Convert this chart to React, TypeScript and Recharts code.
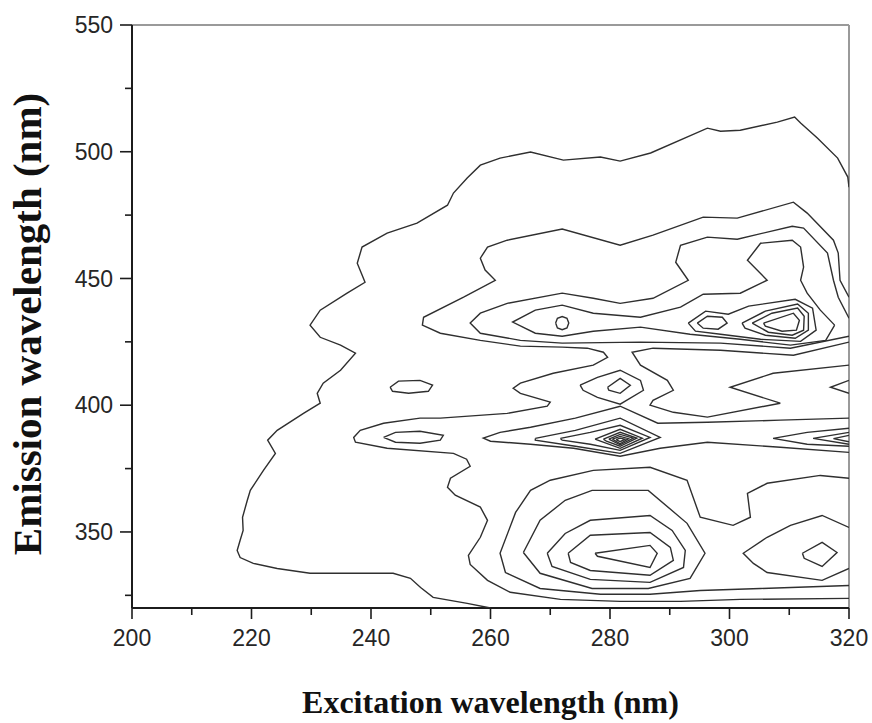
import React from "react";
import { ScatterChart, Scatter, XAxis, YAxis, ReferenceLine } from "recharts";

type Pt = [number, number];

const X_TICKS = [200, 210, 220, 230, 240, 250, 260, 270, 280, 290, 300, 310, 320];
const Y_TICKS = [325, 350, 375, 400, 425, 450, 475, 500, 525, 550];
const X_TITLE = "Excitation wavelength (nm)";
const Y_TITLE = "Emission wavelength (nm)";

// contour lines, [excitation nm, emission nm]
const outerContour: Pt[] = [
  [260.0, 320.0], [256.1, 321.8], [250.4, 324.2], [248.3, 328.1], [246.6, 331.7], [243.7, 333.7],
  [238.2, 333.7], [229.8, 333.7], [224.3, 335.6], [220.3, 337.6], [218.1, 339.9], [217.6, 342.7],
  [218.1, 346.7], [218.6, 350.6], [218.5, 355.8], [219.3, 362.5], [219.8, 366.4], [222.0, 374.3],
  [224.0, 381.0], [222.7, 386.2], [224.3, 390.1], [228.7, 396.8], [231.5, 400.8], [231.0, 404.7],
  [232.0, 408.7], [234.9, 413.8], [237.4, 420.5], [234.9, 423.7], [231.5, 426.8], [229.8, 431.6],
  [231.5, 437.5], [236.0, 444.2], [239.0, 448.5], [237.7, 456.0], [238.5, 462.4], [242.7, 467.9],
  [247.7, 471.8], [252.8, 478.9], [253.8, 483.7], [256.1, 489.6], [258.3, 494.7], [261.6, 497.5],
  [266.7, 499.9], [272.2, 496.7], [278.4, 497.9], [281.7, 496.3], [286.8, 499.5], [296.3, 509.3],
  [298.5, 508.1], [301.8, 508.5], [308.0, 511.7], [310.9, 513.7], [311.9, 511.3], [314.7, 505.4],
  [318.1, 497.5], [319.8, 490.0], [320.0, 486.0],
];

const level2Main: Pt[] = [
  [320.0, 442.6], [318.5, 449.3], [318.2, 460.0], [317.4, 465.1], [313.0, 475.8], [310.7, 480.1],
  [301.3, 473.8], [295.6, 474.2], [287.2, 467.1], [281.7, 463.1], [272.0, 469.5], [262.8, 465.1],
  [259.5, 462.4], [258.3, 458.0], [259.1, 453.3], [260.8, 449.3], [255.5, 442.6], [248.8, 434.7],
  [248.6, 431.6], [251.6, 428.4], [258.3, 425.6], [265.0, 423.3], [272.0, 422.9], [276.2, 422.5],
  [278.9, 420.9], [279.6, 418.9], [277.2, 415.8], [270.5, 412.6], [265.0, 408.7], [263.8, 406.7],
  [265.0, 404.7], [270.0, 401.2], [269.5, 399.6], [262.8, 396.8], [251.6, 394.9], [248.2, 394.9],
  [242.1, 392.9], [238.2, 390.1], [237.1, 387.3], [237.4, 385.4], [242.7, 383.0], [253.8, 381.0],
  [256.0, 378.7], [256.6, 375.9], [253.3, 371.2], [252.8, 367.6], [254.1, 364.5], [258.3, 359.8],
  [259.5, 354.6], [258.3, 347.9], [256.3, 340.8], [256.6, 337.2], [259.5, 330.9], [263.3, 326.2],
  [271.7, 323.4], [281.7, 322.6], [291.8, 322.6], [301.8, 323.4], [320.0, 323.8],
];

const level2Valley: Pt[] = [
  [320.0, 424.9], [310.7, 419.7], [298.5, 421.7], [287.2, 422.5], [283.7, 420.9], [285.1, 415.8],
  [289.6, 409.8], [290.6, 405.9], [287.2, 401.9], [286.7, 400.0], [290.6, 397.2], [296.3, 395.3],
  [308.5, 400.8], [300.1, 407.1], [307.3, 412.6], [320.0, 415.8],
];

const islet407: Pt[] = [
  [243.2, 407.1], [244.6, 409.5], [248.2, 409.8], [250.3, 407.9], [249.6, 405.5], [246.3, 404.7],
  [243.6, 405.5], [243.2, 407.1],
];

const islet387: Pt[] = [
  [242.1, 387.3], [244.1, 389.3], [248.2, 389.7], [252.1, 388.1], [251.6, 386.2], [248.2, 385.0],
  [244.1, 385.4], [242.1, 387.3],
];

const upperL3: Pt[] = [
  [320.0, 434.3], [318.2, 442.6], [317.4, 449.3], [316.4, 460.0], [312.4, 469.9], [310.5, 470.6],
  [301.3, 465.5], [296.3, 466.3], [291.8, 463.1], [291.0, 456.4], [293.1, 449.3], [287.2, 442.2],
  [281.7, 440.2], [277.2, 442.2], [272.0, 444.2], [262.8, 440.2], [258.3, 436.3], [256.6, 432.4],
  [258.3, 428.4], [265.0, 425.6], [272.0, 424.5], [285.1, 424.9], [298.5, 424.5], [310.2, 422.5],
  [320.0, 427.2],
];

const upperL4: Pt[] = [
  [317.6, 431.6], [315.2, 437.5], [313.0, 444.2], [311.9, 449.3], [312.4, 454.5], [311.9, 462.4],
  [310.5, 465.1], [305.2, 463.9], [303.0, 457.2], [306.3, 449.3], [301.8, 444.2], [295.6, 443.8],
  [291.8, 438.7], [285.1, 434.7], [277.2, 436.3], [272.0, 439.5], [267.5, 437.5], [263.7, 432.8],
  [267.5, 428.4], [272.0, 427.2], [277.2, 429.2], [285.1, 430.8], [293.4, 428.0], [301.8, 426.0],
  [310.2, 423.7], [316.1, 425.6], [317.6, 431.6],
];

const upperDot272: Pt[] = [
  [270.9, 432.4], [271.2, 434.3], [272.0, 435.0], [272.8, 434.3], [273.1, 432.4], [272.8, 430.5],
  [272.0, 429.8], [271.2, 430.5], [270.9, 432.4],
];

const upperL5: Pt[] = [
  [293.1, 432.4], [296.0, 437.1], [299.8, 435.9], [303.2, 439.1], [311.0, 441.8], [313.9, 438.3],
  [314.5, 429.6], [311.9, 425.2], [305.2, 426.0], [298.5, 428.0], [294.3, 429.2], [293.1, 432.4],
];

const upperL6a: Pt[] = [
  [294.6, 432.4], [296.3, 435.1], [298.8, 434.7], [299.6, 432.4], [298.1, 430.0], [295.6, 430.4],
  [294.6, 432.4],
];

const upperL6b: Pt[] = [
  [302.1, 432.4], [306.0, 437.1], [311.4, 439.9], [313.2, 436.3], [313.2, 429.6], [311.0, 426.4],
  [306.0, 427.6], [302.6, 430.4], [302.1, 432.4],
];

const upperL7: Pt[] = [
  [303.8, 432.4], [307.1, 436.3], [311.4, 438.3], [312.5, 435.1], [312.4, 429.6], [310.5, 427.6],
  [306.5, 428.8], [303.8, 432.4],
];

const upperL8: Pt[] = [
  [305.7, 432.4], [310.7, 436.3], [311.7, 433.5], [311.2, 429.6], [308.8, 429.2], [306.0, 431.2],
  [305.7, 432.4],
];

const peak410L3: Pt[] = [
  [275.0, 407.9], [277.9, 411.0], [281.7, 413.8], [285.1, 409.8], [285.6, 405.9], [281.7, 400.4],
  [277.9, 403.1], [275.5, 405.9], [275.0, 407.9],
];

const peak410L4: Pt[] = [
  [279.6, 407.1], [281.7, 410.6], [283.4, 407.9], [281.7, 404.7], [279.8, 405.9], [279.6, 407.1],
];

const edge410: Pt[] = [[320.0, 409.8], [316.9, 407.1], [320.0, 404.7]];

const band385L3: Pt[] = [
  [320.0, 394.9], [308.5, 394.1], [296.3, 393.3], [288.0, 392.9], [281.7, 399.6], [274.2, 394.9],
  [266.7, 391.3], [261.6, 389.3], [258.8, 387.0], [260.0, 385.8], [266.7, 384.6], [273.9, 383.0],
  [281.7, 379.9], [288.4, 383.0], [296.3, 385.4], [308.5, 383.4], [320.0, 381.4],
];

const band385L4: Pt[] = [
  [267.5, 386.9], [274.2, 390.1], [281.7, 394.9], [288.4, 387.3], [281.7, 381.0], [274.2, 383.8],
  [267.5, 386.2], [267.5, 386.9],
];

const band385L5: Pt[] = [
  [271.7, 386.9], [276.7, 389.3], [281.7, 392.1], [286.7, 387.3], [281.7, 382.2], [276.7, 384.6],
  [272.0, 386.2], [271.7, 386.9],
];

const band385L6: Pt[] = [
  [277.5, 386.6], [281.7, 390.5], [285.4, 387.0], [281.7, 383.0], [278.4, 385.8], [277.5, 386.6],
];

const band385L7: Pt[] = [
  [278.9, 386.6], [281.7, 389.3], [284.5, 387.0], [281.7, 383.8], [279.4, 385.8], [278.9, 386.6],
];

const band385L8: Pt[] = [[279.8, 386.6], [281.7, 388.5], [283.9, 387.0], [281.7, 384.4], [279.8, 386.6]];
const band385L9: Pt[] = [[280.4, 386.6], [281.7, 387.7], [283.1, 386.8], [281.7, 384.8], [280.4, 386.6]];
const band385L10: Pt[] = [[281.0, 386.4], [281.7, 387.0], [282.5, 386.6], [281.7, 385.6], [281.0, 386.4]];

const edge385L4: Pt[] = [[320.0, 390.9], [313.0, 389.3], [307.3, 386.9], [313.0, 384.6], [320.0, 383.8]];
const edge385L5: Pt[] = [[320.0, 389.3], [314.0, 386.9], [320.0, 384.6]];
const edge385L6: Pt[] = [[320.0, 388.1], [317.4, 386.8], [320.0, 385.6]];

const lowerL3: Pt[] = [
  [320.0, 371.2], [315.2, 372.3], [306.3, 369.2], [303.0, 365.2], [303.5, 355.8], [300.6, 352.6],
  [295.1, 355.8], [292.9, 370.4], [286.7, 375.5], [277.2, 374.3], [270.0, 370.4], [266.7, 366.4],
  [264.2, 357.7], [261.6, 341.6], [262.5, 334.0], [268.3, 327.7], [278.4, 325.4], [286.7, 325.4],
  [295.1, 326.9], [305.2, 327.7], [320.0, 328.9],
];

const lowerL4: Pt[] = [
  [265.5, 341.9], [268.3, 354.6], [272.5, 362.5], [277.0, 366.4], [286.4, 366.4], [292.9, 353.4],
  [295.9, 341.6], [293.4, 331.7], [286.4, 327.7], [277.0, 327.7], [268.3, 333.7], [265.5, 341.9],
];

const lowerL5: Pt[] = [
  [269.5, 341.6], [272.5, 349.4], [276.7, 354.6], [286.7, 356.5], [290.4, 350.6], [292.6, 342.7],
  [292.3, 336.0], [286.7, 330.1], [276.7, 331.3], [270.3, 336.4], [269.5, 341.6],
];

const lowerL6: Pt[] = [
  [273.0, 341.6], [276.7, 348.7], [286.7, 349.8], [290.1, 343.9], [290.6, 338.8], [286.7, 332.9],
  [276.7, 334.8], [273.4, 338.0], [273.0, 341.6],
];

const lowerL7: Pt[] = [[277.5, 341.6], [286.7, 344.7], [287.9, 341.6], [286.7, 336.0], [277.9, 340.4], [277.5, 341.6]];

const rightL4: Pt[] = [
  [320.0, 351.8], [315.5, 356.5], [310.2, 352.6], [306.3, 347.9], [302.3, 341.6], [304.0, 337.6],
  [306.3, 334.0], [315.5, 330.9], [320.0, 335.6],
];

const rightL5: Pt[] = [[312.2, 341.6], [315.5, 345.9], [318.0, 341.9], [315.5, 336.4], [312.5, 339.6], [312.2, 341.6]];

const CONTOURS: Pt[][] = [
  outerContour, level2Main, level2Valley, islet407, islet387,
  upperL3, upperL4, upperDot272, upperL5, upperL6a, upperL6b, upperL7, upperL8,
  peak410L3, peak410L4, edge410,
  band385L3, band385L4, band385L5, band385L6, band385L7, band385L8, band385L9, band385L10,
  edge385L4, edge385L5, edge385L6,
  lowerL3, lowerL4, lowerL5, lowerL6, lowerL7, rightL4, rightL5,
];

const LINE = "#2f2f2f";
const AXIS = "#1c1c1c";
const SANS = "'Liberation Sans', Arial, sans-serif";
const SERIF = "'Liberation Serif', 'Times New Roman', serif";

const noDot = () => <g />;

function XTick({ x, y, payload }: any) {
  const major = payload.value % 20 === 0;
  const len = major ? 11 : 7;
  return (
    <g>
      <line x1={x} y1={y} x2={x} y2={y + len} stroke={AXIS} strokeWidth={1.6} />
      {major && (
        <text x={x} y={y + 38} textAnchor="middle" fontSize={23} fill="#262626" fontFamily={SANS}>
          {payload.value}
        </text>
      )}
    </g>
  );
}

function YTick({ x, y, payload }: any) {
  const major = payload.value % 50 === 0;
  const len = major ? 12 : 7;
  return (
    <g>
      <line x1={x} y1={y} x2={x - len} y2={y} stroke={AXIS} strokeWidth={1.6} />
      {major && (
        <text x={x - 19} y={y} dy="0.36em" textAnchor="end" fontSize={23} fill="#262626" fontFamily={SANS}>
          {payload.value}
        </text>
      )}
    </g>
  );
}

export default function App() {
  return (
    <div style={{ position: "absolute", left: 0, top: 0, width: 872, height: 723, background: "#fff", overflow: "hidden" }}>
      <ScatterChart width={872} height={723} margin={{ top: 25, right: 23, left: 0, bottom: 0 }}>
        <XAxis
          type="number"
          dataKey="x"
          domain={[200, 320]}
          ticks={X_TICKS}
          interval={0}
          allowDataOverflow
          height={115}
          tickSize={0}
          tickMargin={0}
          tickLine={false}
          tick={<XTick />}
          axisLine={{ stroke: AXIS, strokeWidth: 2 }}
        />
        <YAxis
          type="number"
          dataKey="y"
          domain={[320, 550]}
          ticks={Y_TICKS}
          interval={0}
          allowDataOverflow
          width={132}
          tickSize={0}
          tickMargin={0}
          tickLine={false}
          tick={<YTick />}
          axisLine={{ stroke: AXIS, strokeWidth: 2 }}
        />
        <ReferenceLine y={550} stroke="#9a9a9a" strokeWidth={2} />
        <ReferenceLine x={320} stroke="#9a9a9a" strokeWidth={2} />
        {CONTOURS.map((pts, i) => (
          <Scatter
            key={i}
            data={pts.map(([x, y]) => ({ x, y }))}
            fill={LINE}
            line={{ stroke: LINE, strokeWidth: 1.4 }}
            shape={noDot}
            isAnimationActive={false}
          />
        ))}
      </ScatterChart>
      <div
        style={{
          position: "absolute",
          left: 132,
          width: 717,
          top: 686,
          lineHeight: "32px",
          textAlign: "center",
          fontFamily: SERIF,
          fontWeight: "bold",
          fontSize: 32,
          color: "#111",
          whiteSpace: "nowrap",
        }}
      >
        {X_TITLE}
      </div>
      <div
        style={{
          position: "absolute",
          left: 27 - 300,
          top: 324 - 22,
          width: 600,
          height: 44,
          lineHeight: "44px",
          textAlign: "center",
          fontFamily: SERIF,
          fontWeight: "bold",
          fontSize: 41,
          color: "#111",
          whiteSpace: "nowrap",
          transform: "rotate(-90deg)",
        }}
      >
        {Y_TITLE}
      </div>
    </div>
  );
}
